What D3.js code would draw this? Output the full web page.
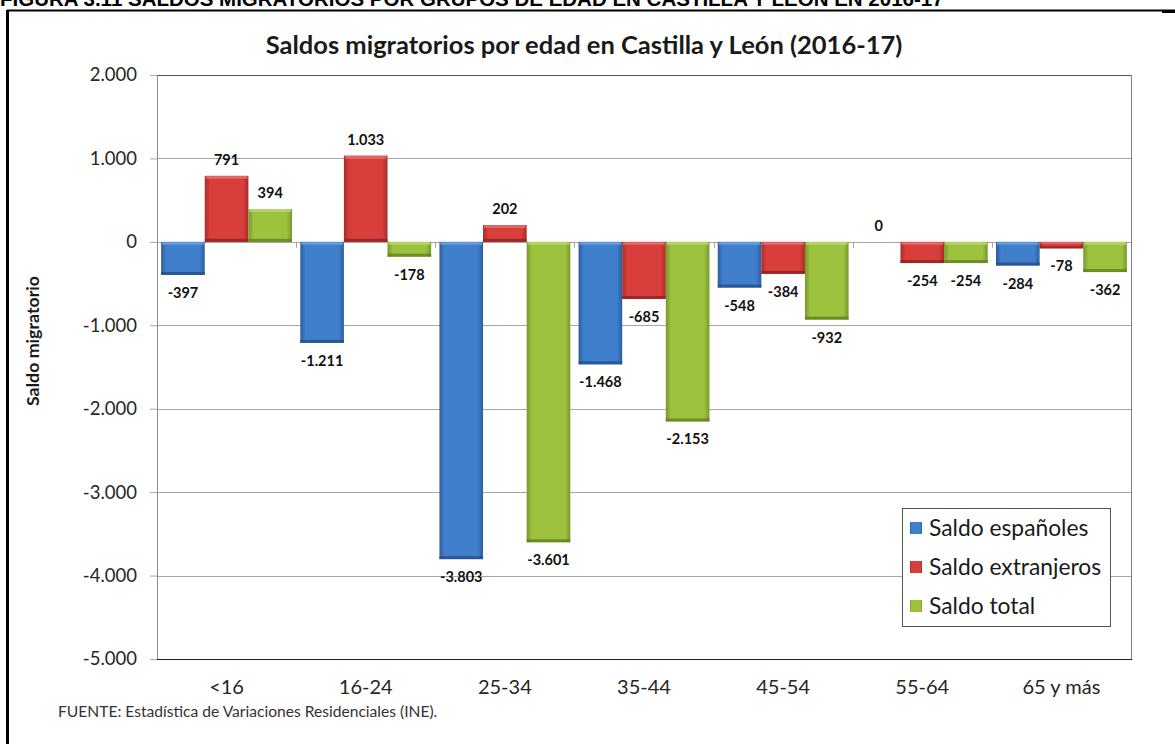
<!DOCTYPE html>
<html>
<head>
<meta charset="utf-8">
<title>Saldos migratorios</title>
<script src="https://d3js.org/d3.v7.min.js"></script>
<style>
  body { margin: 0; background: #fff; }
  text { font-family: Lato, "Open Sans", sans-serif; }
</style>
</head>
<body>
<script>
// datos
var categorias = ["<16", "16-24", "25-34", "35-44", "45-54", "55-64", "65 y más"];
var series = ["Saldo españoles", "Saldo extranjeros", "Saldo total"];
var espanoles  = [-397, -1211, -3803, -1468, -548, 0, -284];
var extranjeros = [791, 1033, 202, -685, -384, -254, -78];
var total      = [394, -178, -3601, -2153, -932, -254, -362];
var ticksY = [2000, 1000, 0, -1000, -2000, -3000, -4000, -5000];

var valores = [espanoles, extranjeros, total];
var colores = [
  { mid: "#3f7fcc", edge: "#2c5e9c", light: "#6fa0dc", dark: "#244f86" },
  { mid: "#d83f3c", edge: "#a92b29", light: "#e7706d", dark: "#8f2220" },
  { mid: "#9cc23e", edge: "#76982b", light: "#bcd872", dark: "#627f22" }
];

var W = 1175, H = 744;
var plot = { left: 157, right: 1131, top: 75, bottom: 659 };

var loc = d3.formatLocale({ decimal: ",", thousands: ".", grouping: [3], currency: ["", "€"], minus: "-" });
var fmt = loc.format(",d");

var svg = d3.select("body").append("svg")
  .attr("width", W).attr("height", H);

// gradientes
var defs = svg.append("defs");
colores.forEach(function(c, i) {
  var g = defs.append("linearGradient").attr("id", "g" + i)
    .attr("x1", 0).attr("x2", 1).attr("y1", 0).attr("y2", 0);
  g.append("stop").attr("offset", "0").attr("stop-color", c.edge);
  g.append("stop").attr("offset", "0.12").attr("stop-color", c.mid);
  g.append("stop").attr("offset", "0.88").attr("stop-color", c.mid);
  g.append("stop").attr("offset", "1").attr("stop-color", c.edge);
});

// encabezado (cortado arriba, como en la figura)
svg.append("text")
  .attr("x", 0).attr("y", 6)
  .style("font-family", "'Liberation Sans', Arial, sans-serif")
  .attr("font-weight", "bold").attr("font-size", 20.5)
  .text("FIGURA 3.11 SALDOS MIGRATORIOS POR GRUPOS DE EDAD EN CASTILLA Y LEÓN EN 2016-17");

// marco
svg.append("line").attr("x1", 7).attr("x2", W).attr("y1", 10.5).attr("y2", 10.5)
  .attr("stroke", "#000").attr("stroke-width", 2);
svg.append("line").attr("x1", 1162).attr("x2", W).attr("y1", 11.5).attr("y2", 11.5)
  .attr("stroke", "#000").attr("stroke-width", 3);
svg.append("line").attr("x1", 7.5).attr("x2", 7.5).attr("y1", 10).attr("y2", H)
  .attr("stroke", "#000").attr("stroke-width", 3);

// titulo
svg.append("text")
  .attr("x", 584).attr("y", 54)
  .attr("text-anchor", "middle")
  .attr("font-weight", "bold").attr("font-size", 25.5)
  .attr("fill", "#1a1a1a")
  .text("Saldos migratorios por edad en Castilla y León (2016-17)");

var x = d3.scaleBand().domain(categorias).range([plot.left, plot.right]);
var xs = d3.scaleBand().domain(d3.range(series.length))
  .range([0, x.bandwidth()]).paddingOuter(0.095).paddingInner(0);
var y = d3.scaleLinear().domain([-5000, 2000]).range([plot.bottom, plot.top]);

// rejilla
svg.append("g").selectAll("line").data(ticksY).join("line")
  .attr("x1", plot.left).attr("x2", plot.right)
  .attr("y1", function(d) { return Math.round(y(d)) + 0.5; })
  .attr("y2", function(d) { return Math.round(y(d)) + 0.5; })
  .attr("stroke", function(d) { return (d === 2000) ? "#555" : "#a6a6a6"; })
  .attr("stroke-width", 1);

// eje Y
var yAxis = svg.append("g")
  .attr("transform", "translate(" + plot.left + ",0)")
  .call(d3.axisLeft(y).tickValues(ticksY).tickFormat(fmt).tickSize(7).tickPadding(13));
yAxis.select(".domain").attr("stroke", "#8c8c8c");
yAxis.selectAll(".tick line").attr("stroke", "#a6a6a6");
yAxis.selectAll("text").attr("font-size", 18.5).attr("fill", "#262626")
  .style("font-family", "Lato, sans-serif");

// borde derecho y eje inferior
svg.append("line").attr("x1", plot.right + 0.5).attr("x2", plot.right + 0.5)
  .attr("y1", plot.top).attr("y2", plot.bottom).attr("stroke", "#7f7f7f");
svg.append("line").attr("x1", plot.left).attr("x2", plot.right + 1)
  .attr("y1", plot.bottom + 0.5).attr("y2", plot.bottom + 0.5).attr("stroke", "#222");

// marcas de categoria sobre la linea de cero
svg.append("g").selectAll("line").data(categorias.slice(1)).join("line")
  .attr("x1", function(d) { return Math.round(x(d)) + 0.5; })
  .attr("x2", function(d) { return Math.round(x(d)) + 0.5; })
  .attr("y1", y(0)).attr("y2", y(0) + 6)
  .attr("stroke", "#a6a6a6");

// barras
var grupos = svg.append("g").selectAll("g").data(categorias).join("g")
  .attr("transform", function(d) { return "translate(" + x(d) + ",0)"; });

grupos.each(function(cat, ci) {
  var g = d3.select(this);
  series.forEach(function(s, si) {
    var v = valores[si][ci];
    var bx = xs(si), bw = xs.bandwidth();
    var y0 = y(Math.max(0, v)), y1 = y(Math.min(0, v));
    var h = y1 - y0;
    if (h > 0) {
      g.append("rect").attr("x", bx).attr("y", y0).attr("width", bw).attr("height", h)
        .attr("fill", "url(#g" + si + ")");
      var t = Math.min(3, h / 3);
      g.append("rect").attr("x", bx + 1).attr("y", y0).attr("width", bw - 2).attr("height", t)
        .attr("fill", colores[si].light).attr("opacity", 0.8);
      g.append("rect").attr("x", bx).attr("y", y1 - t).attr("width", bw).attr("height", t)
        .attr("fill", colores[si].dark).attr("opacity", 0.8);
    }
    // etiqueta
    g.append("text")
      .attr("x", bx + bw / 2)
      .attr("y", v >= 0 ? y(v) - 11 : y(v) + 23)
      .attr("text-anchor", "middle")
      .attr("font-weight", "bold").attr("font-size", 14.5)
      .attr("fill", "#111")
      .text(fmt(v));
  });
});

// eje X (etiquetas)
svg.append("g").selectAll("text").data(categorias).join("text")
  .attr("x", function(d) { return x(d) + x.bandwidth() / 2; })
  .attr("y", 694)
  .attr("text-anchor", "middle")
  .attr("font-size", 20).attr("fill", "#262626")
  .text(function(d) { return d; });

// titulo eje Y
svg.append("text")
  .attr("transform", "translate(39,341) rotate(-90)")
  .attr("text-anchor", "middle")
  .attr("font-weight", "bold").attr("font-size", 17.8)
  .attr("fill", "#1a1a1a")
  .text("Saldo migratorio");

// leyenda
var leg = svg.append("g").attr("transform", "translate(902,508)");
leg.append("rect").attr("x", 0.5).attr("y", 0.5).attr("width", 208).attr("height", 118)
  .attr("fill", "#fff").attr("stroke", "#555");
series.forEach(function(s, i) {
  var row = leg.append("g").attr("transform", "translate(0," + (20 + i * 39) + ")");
  row.append("rect").attr("x", 8).attr("y", -6).attr("width", 12).attr("height", 12)
    .attr("fill", "url(#g" + i + ")");
  row.append("text").attr("x", 27).attr("y", 8)
    .attr("font-size", 22.8).attr("fill", "#1a1a1a")
    .text(s);
});

// fuente
svg.append("text")
  .attr("x", 58).attr("y", 717)
  .attr("font-size", 15.6).attr("fill", "#333")
  .text("FUENTE: Estadística de Variaciones Residenciales (INE).");
</script>
</body>
</html>
